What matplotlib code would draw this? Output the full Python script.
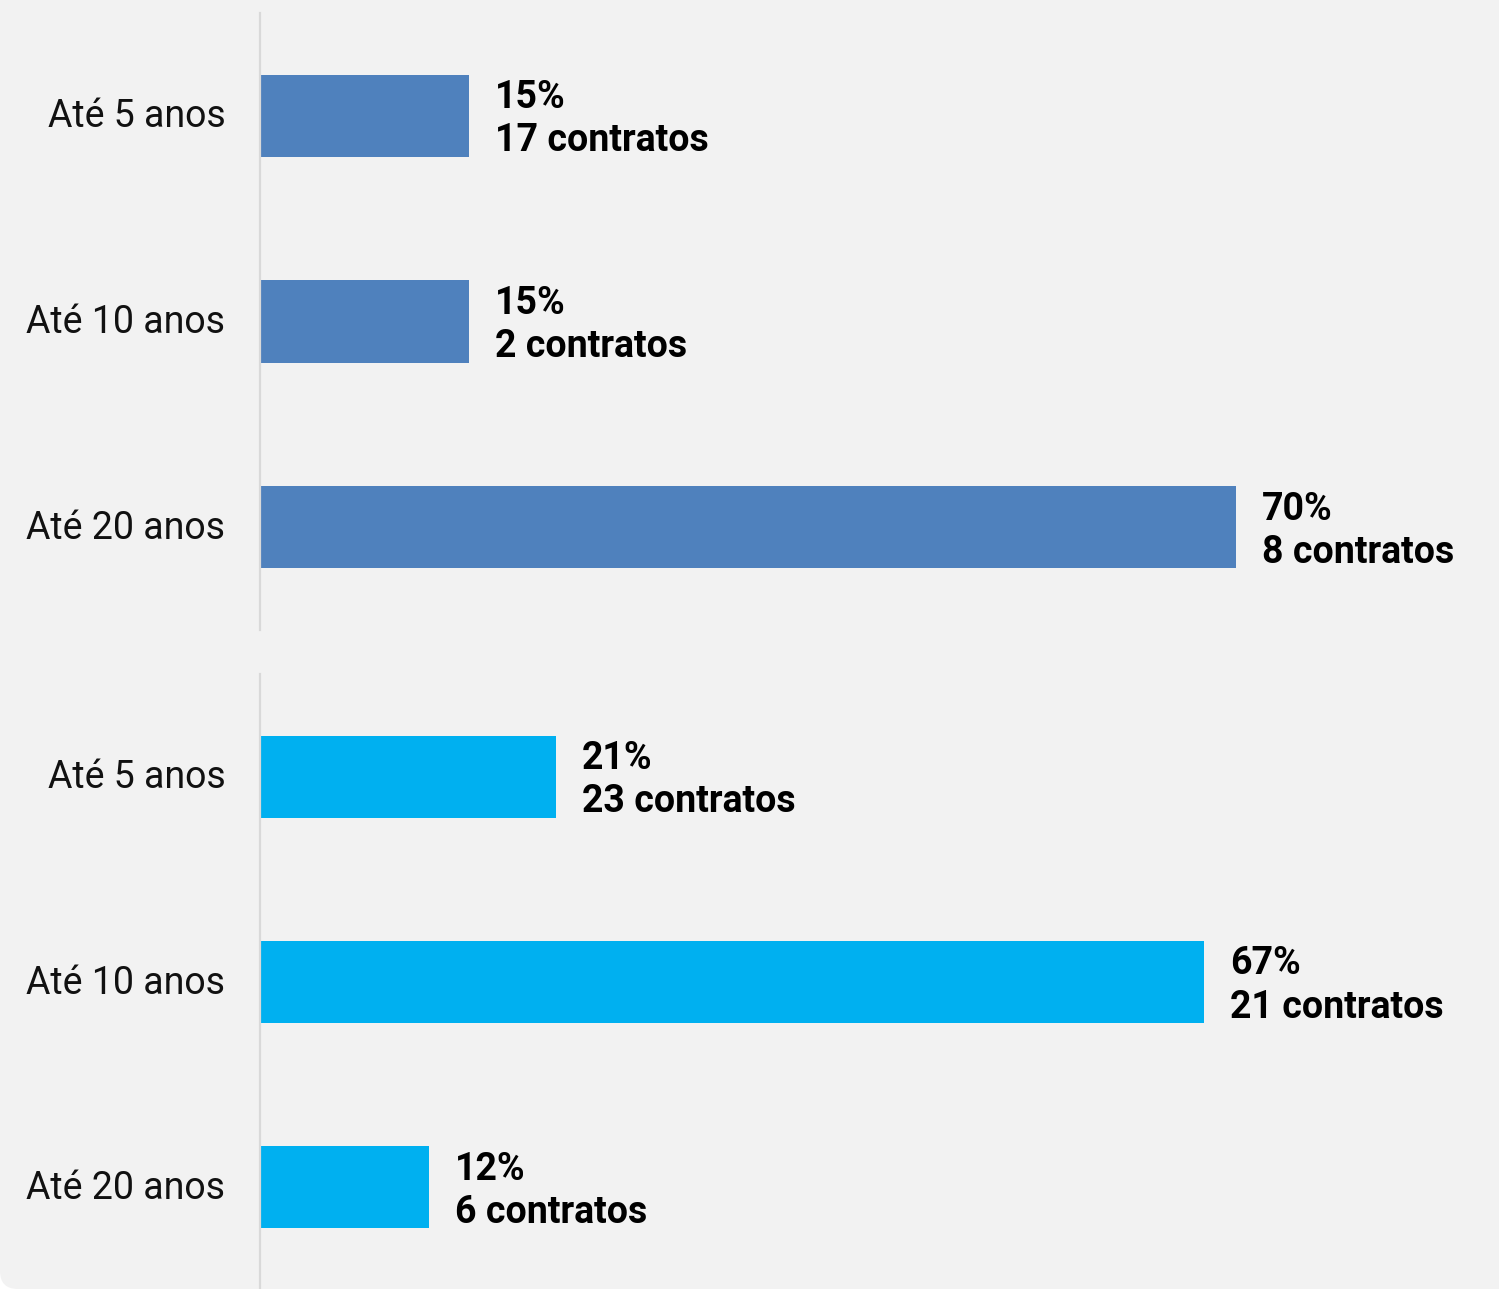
import matplotlib
matplotlib.use("Agg")
import matplotlib.pyplot as plt
from matplotlib.patches import FancyBboxPatch
from matplotlib.transforms import ScaledTranslation

# Data
categories = ["Até 5 anos", "Até 10 anos", "Até 20 anos"]
top_pct = [15, 15, 70]
top_contracts = [17, 2, 8]
bottom_pct = [21, 67, 12]
bottom_contracts = [23, 21, 6]

TOP_COLOR = "#4f81bd"
BOTTOM_COLOR = "#00b0f0"
BG = "#f2f2f2"
AXIS_COLOR = "#d9d9d9"
TEXT_COLOR = "#111111"

plt.rcParams["font.family"] = ["Roboto", "DejaVu Sans"]

W, H = 1499, 1289
fig = plt.figure(figsize=(W / 100, H / 100), dpi=100)
fig.patch.set_facecolor("white")

# Rounded light-grey card behind the charts
card = FancyBboxPatch((0, 0), 1.2, 1.2, boxstyle="round,pad=0,rounding_size=0.012",
                      transform=fig.transFigure, facecolor=BG, edgecolor="none",
                      zorder=-10, mutation_aspect=W / H)
fig.patches.append(card)

left = 260 / W
width = 1227 / W


def panel(bottom_px, top_px, values, counts, color, xmax):
    ax = fig.add_axes([left, (H - bottom_px) / H, width, (bottom_px - top_px) / H])
    ax.set_facecolor("none")
    y = list(range(len(categories)))
    ax.barh(y, values, height=0.4, color=color, zorder=2)
    ax.set_ylim(len(categories) - 0.5, -0.5)
    ax.set_xlim(0, xmax)
    ax.set_yticks(y)
    ax.set_yticklabels(categories, fontsize=27, color=TEXT_COLOR)
    ax.tick_params(axis="y", length=0, pad=25)
    shift = ScaledTranslation(0, 3 / 100, fig.dpi_scale_trans)
    for lab in ax.get_yticklabels():
        lab.set_transform(lab.get_transform() + shift)
    ax.set_xticks([])
    for s in ["top", "right", "bottom"]:
        ax.spines[s].set_visible(False)
    ax.spines["left"].set_color(AXIS_COLOR)
    ax.spines["left"].set_linewidth(1.6)
    for yi, v, c in zip(y, values, counts):
        ax.annotate(f"{v}%", xy=(v, yi), xytext=(26, 18), textcoords="offset pixels",
                    ha="left", va="center", fontsize=27, fontweight="bold", color="black")
        ax.annotate(f"{c} contratos", xy=(v, yi), xytext=(26, -25), textcoords="offset pixels",
                    ha="left", va="center", fontsize=27, fontweight="bold", color="black")
    return ax


panel(630, 13, top_pct, top_contracts, TOP_COLOR, 1227 / (976 / 70))
panel(1290, 674, bottom_pct, bottom_contracts, BOTTOM_COLOR, 1227 / (944 / 67))

fig.savefig("out.png", dpi=100, facecolor=fig.get_facecolor())
